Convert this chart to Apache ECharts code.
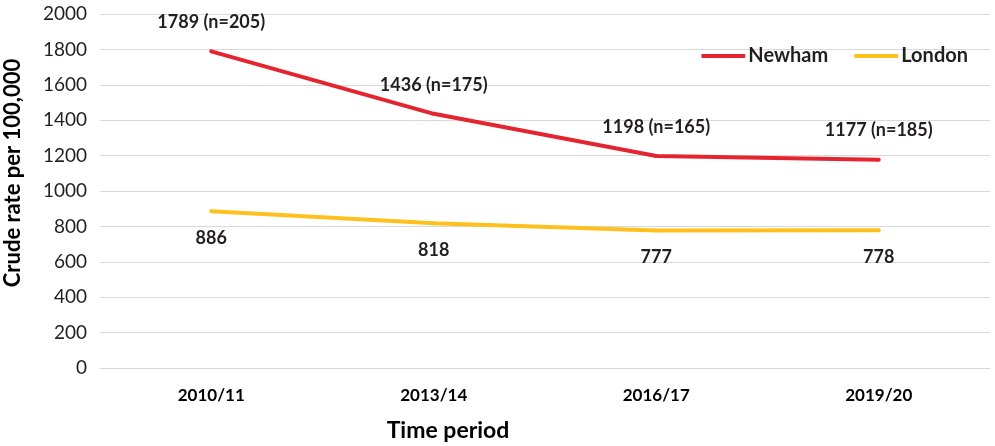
<!DOCTYPE html>
<html lang="en">
<head>
    <meta charset="UTF-8">
    <title>Crude rate per 100,000</title>
    <style>
      * { padding: 0; margin: 0; }
      body { background: #fff; }
    </style>
</head>
<body>
    <div id="main" style="width: 995px;height:446px;"></div>
    <script src="https://cdn.jsdelivr.net/npm/echarts@6/dist/echarts.min.js"></script>
    <script>
        var periods = ['2010/11', '2013/14', '2016/17', '2019/20'];
        var newham = [1789, 1436, 1198, 1177];
        var newhamN = [205, 175, 165, 185];
        var london = [886, 818, 777, 778];
        var yTicks = [0, 200, 400, 600, 800, 1000, 1200, 1400, 1600, 1800, 2000];

        var fontName = 'Lato';
        var red = '#e42530';
        var yellow = '#fdc01c';

        var option = {
            textStyle: { fontFamily: fontName },
            legend: {
                top: 41,
                right: 22,
                itemWidth: 44,
                itemHeight: 4,
                itemGap: 26,
                icon: 'roundRect',
                textStyle: { fontSize: 20, fontWeight: 'bold', color: '#231f20', padding: [0, 0, 0, -2] },
                data: ['Newham', 'London']
            },
            grid: {
                left: 100,
                right: 5,
                top: 14,
                bottom: 78,
                outerBoundsMode: 'none'
            },
            xAxis: {
                type: 'category',
                data: periods,
                name: 'Time period',
                nameLocation: 'middle',
                nameGap: 51,
                nameTextStyle: { fontSize: 23, fontWeight: 'bold', color: '#000', padding: [0, 194, 0, 0] },
                axisLabel: { fontSize: 17, fontWeight: 'bold', color: '#000', margin: 19 },
                axisTick: { show: false },
                axisLine: { lineStyle: { color: '#d9d9d9', width: 1 } }
            },
            yAxis: {
                type: 'value',
                min: yTicks[0],
                max: yTicks[yTicks.length - 1],
                interval: 200,
                name: 'Crude rate per 100,000',
                nameLocation: 'middle',
                nameGap: 76,
                nameTextStyle: { fontSize: 22, fontWeight: 'bold', color: '#000', padding: [0, 0, 0, 36] },
                axisLabel: {
                    fontSize: 19,
                    color: '#231f20',
                    margin: 13,
                    formatter: function (v) { return String(v); }
                },
                axisTick: { show: false },
                axisLine: { show: false },
                splitLine: { lineStyle: { color: '#d9d9d9', width: 1 } }
            },
            series: [
                {
                    name: 'Newham',
                    type: 'line',
                    data: newham,
                    symbol: 'circle',
                    symbolSize: 4,
                    itemStyle: { color: red },
                    lineStyle: { width: 4, color: red },
                    label: {
                        show: true,
                        position: 'top',
                        distance: 18,
                        fontSize: 18,
                        fontWeight: 'bold',
                        color: '#231f20',
                        formatter: function (p) {
                            return p.value + ' (n=' + newhamN[p.dataIndex] + ')';
                        }
                    }
                },
                {
                    name: 'London',
                    type: 'line',
                    data: london,
                    symbol: 'circle',
                    symbolSize: 4,
                    itemStyle: { color: yellow },
                    lineStyle: { width: 4, color: yellow },
                    label: {
                        show: true,
                        position: 'bottom',
                        distance: 16,
                        fontSize: 18,
                        fontWeight: 'bold',
                        color: '#231f20'
                    }
                }
            ]
        };

        var myChart = echarts.init(document.getElementById('main'));
        myChart.setOption(option);
    </script>
</body>
</html>
